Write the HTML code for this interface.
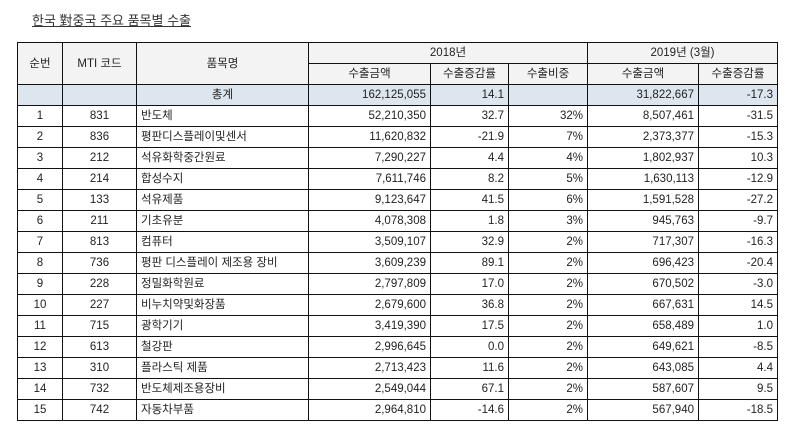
<!DOCTYPE html>
<html><head><meta charset="utf-8"><style>
body{margin:0;width:789px;height:447px;background:#fff;font-family:"Liberation Sans","Noto Sans CJK KR",sans-serif;color:#222;overflow:hidden}
.t{position:absolute;left:32px;top:10px;font-size:13px;text-decoration:underline;color:#333}
table{position:absolute;left:17px;top:42px;border-collapse:collapse;font-size:11.5px;table-layout:fixed}
td{border:1px solid #111;height:20px;padding:0 4px;white-space:nowrap;line-height:14px}
.h td{background:#f3f3f3;text-align:center}
.tot td{background:#dde5ee}
.c{text-align:center}.r{text-align:right}
</style></head><body>
<div class="t">한국 對중국 주요 품목별 수출</div>
<table>
<colgroup><col style="width:45px"><col style="width:74px"><col style="width:172px"><col style="width:122px"><col style="width:78px"><col style="width:79px"><col style="width:111px"><col style="width:79px"></colgroup>
<tr class="h"><td rowspan="2">순번</td><td rowspan="2">MTI 코드</td><td rowspan="2">품목명</td><td colspan="3">2018년</td><td colspan="2">2019년 (3월)</td></tr>
<tr class="h"><td>수출금액</td><td>수출증감률</td><td>수출비중</td><td>수출금액</td><td>수출증감률</td></tr>
<tr class="tot"><td></td><td></td><td class="c">총계</td><td class="r">162,125,055</td><td class="r">14.1</td><td></td><td class="r">31,822,667</td><td class="r">-17.3</td></tr>
<tr><td class="c">1</td><td class="c">831</td><td>반도체</td><td class="r">52,210,350</td><td class="r">32.7</td><td class="r">32%</td><td class="r">8,507,461</td><td class="r">-31.5</td></tr>
<tr><td class="c">2</td><td class="c">836</td><td>평판디스플레이및센서</td><td class="r">11,620,832</td><td class="r">-21.9</td><td class="r">7%</td><td class="r">2,373,377</td><td class="r">-15.3</td></tr>
<tr><td class="c">3</td><td class="c">212</td><td>석유화학중간원료</td><td class="r">7,290,227</td><td class="r">4.4</td><td class="r">4%</td><td class="r">1,802,937</td><td class="r">10.3</td></tr>
<tr><td class="c">4</td><td class="c">214</td><td>합성수지</td><td class="r">7,611,746</td><td class="r">8.2</td><td class="r">5%</td><td class="r">1,630,113</td><td class="r">-12.9</td></tr>
<tr><td class="c">5</td><td class="c">133</td><td>석유제품</td><td class="r">9,123,647</td><td class="r">41.5</td><td class="r">6%</td><td class="r">1,591,528</td><td class="r">-27.2</td></tr>
<tr><td class="c">6</td><td class="c">211</td><td>기초유분</td><td class="r">4,078,308</td><td class="r">1.8</td><td class="r">3%</td><td class="r">945,763</td><td class="r">-9.7</td></tr>
<tr><td class="c">7</td><td class="c">813</td><td>컴퓨터</td><td class="r">3,509,107</td><td class="r">32.9</td><td class="r">2%</td><td class="r">717,307</td><td class="r">-16.3</td></tr>
<tr><td class="c">8</td><td class="c">736</td><td>평판 디스플레이 제조용 장비</td><td class="r">3,609,239</td><td class="r">89.1</td><td class="r">2%</td><td class="r">696,423</td><td class="r">-20.4</td></tr>
<tr><td class="c">9</td><td class="c">228</td><td>정밀화학원료</td><td class="r">2,797,809</td><td class="r">17.0</td><td class="r">2%</td><td class="r">670,502</td><td class="r">-3.0</td></tr>
<tr><td class="c">10</td><td class="c">227</td><td>비누치약및화장품</td><td class="r">2,679,600</td><td class="r">36.8</td><td class="r">2%</td><td class="r">667,631</td><td class="r">14.5</td></tr>
<tr><td class="c">11</td><td class="c">715</td><td>광학기기</td><td class="r">3,419,390</td><td class="r">17.5</td><td class="r">2%</td><td class="r">658,489</td><td class="r">1.0</td></tr>
<tr><td class="c">12</td><td class="c">613</td><td>철강판</td><td class="r">2,996,645</td><td class="r">0.0</td><td class="r">2%</td><td class="r">649,621</td><td class="r">-8.5</td></tr>
<tr><td class="c">13</td><td class="c">310</td><td>플라스틱 제품</td><td class="r">2,713,423</td><td class="r">11.6</td><td class="r">2%</td><td class="r">643,085</td><td class="r">4.4</td></tr>
<tr><td class="c">14</td><td class="c">732</td><td>반도체제조용장비</td><td class="r">2,549,044</td><td class="r">67.1</td><td class="r">2%</td><td class="r">587,607</td><td class="r">9.5</td></tr>
<tr><td class="c">15</td><td class="c">742</td><td>자동차부품</td><td class="r">2,964,810</td><td class="r">-14.6</td><td class="r">2%</td><td class="r">567,940</td><td class="r">-18.5</td></tr>
</table>
</body></html>
